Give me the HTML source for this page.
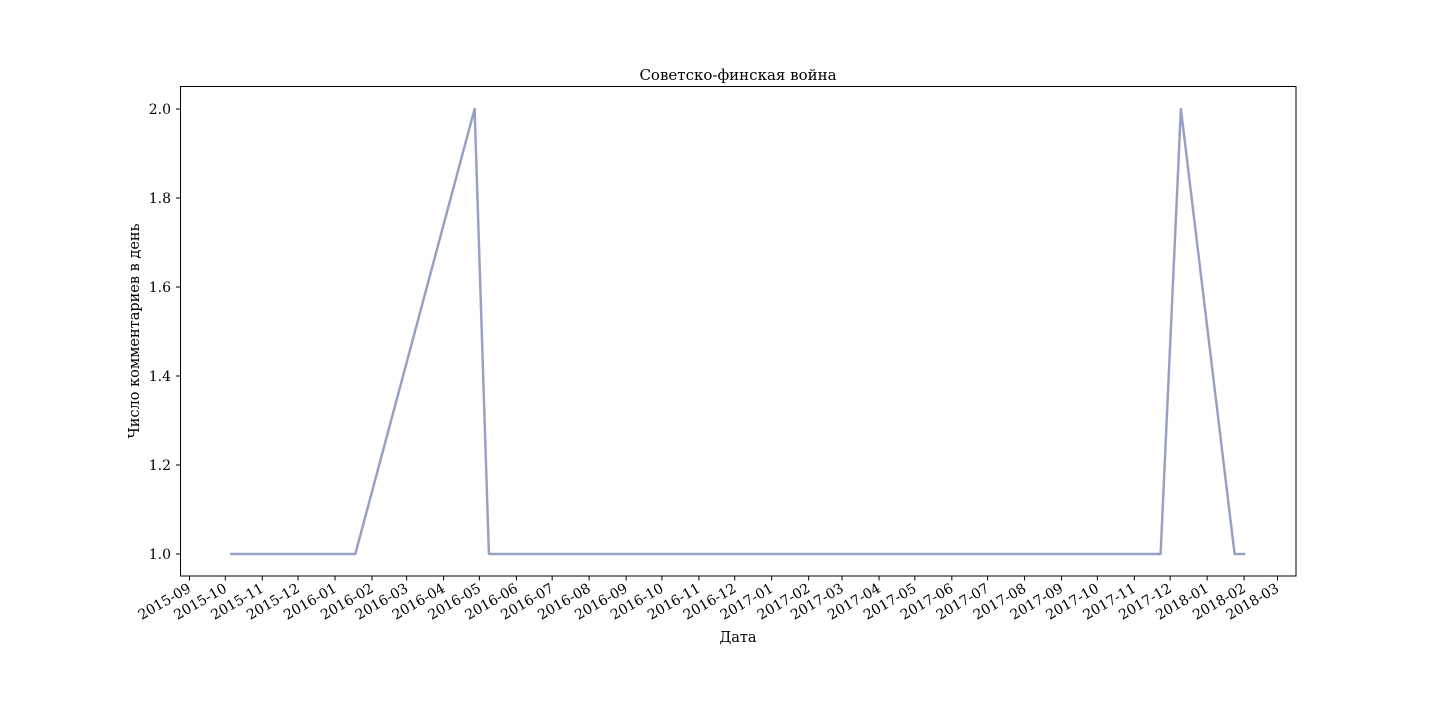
<!DOCTYPE html>
<html><head><meta charset="utf-8"><style>
body{margin:0;background:#fff;}
svg{display:block;font-family:"DejaVu Serif","Liberation Serif",serif;}
</style></head>
<body>
<svg id="chart" width="1440" height="720" viewBox="0 0 1440 720" xmlns="http://www.w3.org/2000/svg">
<rect width="1440" height="720" fill="#fff"/>
<text x="738" y="80" text-anchor="middle" font-size="15">Советско-финская война</text>
<text x="738" y="642" text-anchor="middle" font-size="14.5">Дата</text>
<text transform="translate(139,331) rotate(-90)" text-anchor="middle" font-size="14.5">Число комментариев в день</text>
<g id="ticks"></g>
<g id="lines"></g>
<rect x="180.5" y="86.5" width="1115.5" height="489.5" fill="none" stroke="#000" stroke-width="1"/>
</svg>
<script>
const dates = ["2015-10-05","2016-01-18","2016-04-27","2016-05-09","2017-11-23","2017-12-10","2018-01-24","2018-02-02"];
const values = [1,1,2,1,1,2,1,1];
const yTicks = [1.0,1.2,1.4,1.6,1.8,2.0];
const xTickLabels = ["2015-09","2015-10","2015-11","2015-12","2016-01","2016-02","2016-03","2016-04","2016-05","2016-06","2016-07","2016-08","2016-09","2016-10","2016-11","2016-12","2017-01","2017-02","2017-03","2017-04","2017-05","2017-06","2017-07","2017-08","2017-09","2017-10","2017-11","2017-12","2018-01","2018-02","2018-03"];

const NS="http://www.w3.org/2000/svg";
const t0=Date.parse("2015-09-01"), t1=Date.parse("2018-03-01");
const xs=d=>189.5+(Date.parse(d.length===7?d+"-01":d)-t0)/(t1-t0)*(1277.5-189.5);
const ys=v=>554-(v-1)*445;
const tg=document.getElementById('ticks');
function mk(tag,attrs,parent){const e=document.createElementNS(NS,tag);for(const k in attrs)e.setAttribute(k,attrs[k]);parent.appendChild(e);return e;}
yTicks.forEach(v=>{
  const y=ys(v);
  const l=mk('line',{x1:176,x2:180.5,y1:y,y2:y,stroke:'#000'},tg);
  
  
  const t=mk('text',{x:171,y:y+5,'text-anchor':'end','font-size':14},tg);
  
  
  t.textContent=v.toFixed(1);
});
xTickLabels.forEach(s=>{
  const x=xs(s);
  const l=mk('line',{x1:x,x2:x,y1:576,y2:580.5,stroke:'#000'},tg);
  
  
  const t=mk('text',{transform:`translate(${x+2.5},${591}) rotate(-30)`,'text-anchor':'end','font-size':14},tg);
  
  
  t.textContent=s;
});
const pts=dates.map((d,i)=>xs(d).toFixed(1)+','+ys(values[i]).toFixed(1)).join(' ');
const lg=document.getElementById('lines');
const p1=mk('polyline',{points:pts,fill:'none',stroke:'#a8a4b4','stroke-width':2.5,'stroke-linejoin':'round'},lg);


const p2=mk('polyline',{points:pts,fill:'none',stroke:'#8e9fd0','stroke-width':1.5,'stroke-linejoin':'round'},lg);


</script>
</body></html>
